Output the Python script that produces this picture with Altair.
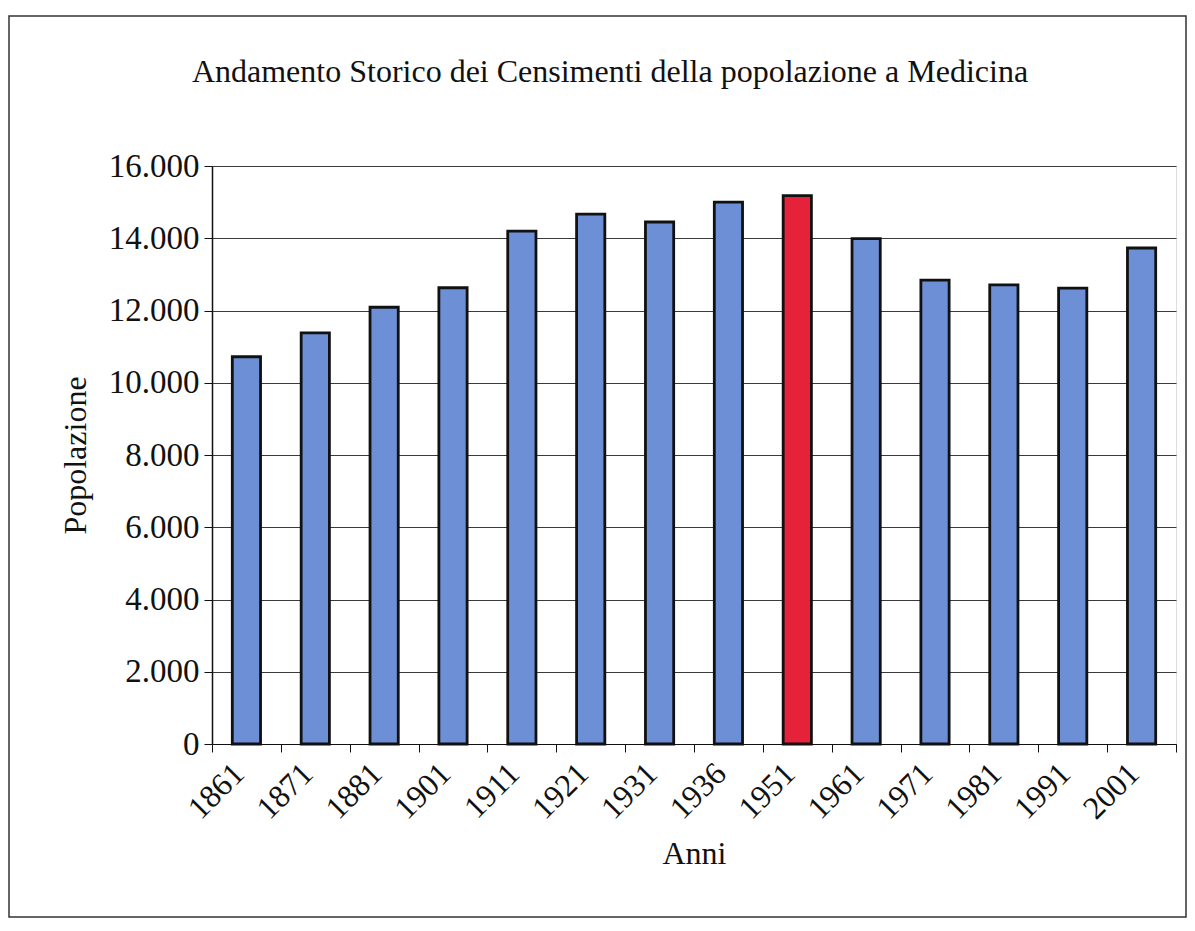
import altair as alt
import pandas as pd

anni = ["1861", "1871", "1881", "1901", "1911", "1921", "1931", "1936",
        "1951", "1961", "1971", "1981", "1991", "2001"]
popolazione = [10720, 11380, 12090, 12630, 14200, 14670, 14450, 15000,
               15180, 13990, 12840, 12710, 12620, 13730]
evidenza = ["no"] * 8 + ["si"] + ["no"] * 5
y_ticks = [0, 2000, 4000, 6000, 8000, 10000, 12000, 14000, 16000]
titolo = "Andamento Storico dei Censimenti della popolazione a Medicina"

df = pd.DataFrame({"Anni": anni, "Popolazione": popolazione, "evidenza": evidenza})

FONT = "Liberation Serif"
W, H = 964, 578

bars = alt.Chart(df).mark_bar(
    width={"band": 0.41}, stroke="#111111", strokeWidth=2.8
).encode(
    x=alt.X("Anni:N", sort=None, title="Anni",
            scale=alt.Scale(paddingInner=0, paddingOuter=0),
            axis=alt.Axis(labelAngle=-45, labelAlign="right", labelBaseline="middle",
                          labelPadding=16, labelOffset=-8, tickBand="extent", tickSize=8,
                          labelFontSize=32, titleFontSize=32, titlePadding=14,
                          labelFont=FONT, titleFont=FONT, grid=False,
                          domainColor="#111111", tickColor="#111111",
                          labelColor="#111111", titleColor="#111111",
                          titleFontWeight="normal")),
    y=alt.Y("Popolazione:Q", title="Popolazione",
            scale=alt.Scale(domain=[0, 16000], nice=False),
            axis=alt.Axis(values=y_ticks, tickSize=8, labelPadding=5,
                          labelExpr="replace(format(datum.value, ',d'), ',', '.')",
                          labelFontSize=33, titleFontSize=32, titlePadding=16,
                          labelFont=FONT, titleFont=FONT, grid=True,
                          gridColor="#3a3a3a", gridWidth=1,
                          domainColor="#111111", domainWidth=1.5,
                          tickColor="#111111", labelColor="#111111",
                          titleColor="#111111", titleFontWeight="normal")),
    color=alt.Color("evidenza:N", legend=None,
                    scale=alt.Scale(domain=["no", "si"], range=["#6D8FD5", "#E5223A"])),
)

border = alt.Chart(pd.DataFrame({"k": [0]})).mark_rect(
    fill=None, stroke="#333333", strokeWidth=1.5
).encode(
    x=alt.value(-203), x2=alt.value(974), y=alt.value(-150), y2=alt.value(751)
)

title_text = alt.Chart(pd.DataFrame({"t": [titolo]})).mark_text(
    font=FONT, fontSize=32, color="#111111", align="center", baseline="alphabetic"
).encode(
    text="t:N", x=alt.value(398), y=alt.value(-84)
)

chart = alt.layer(bars, border, title_text).properties(
    width=W, height=H,
    autosize=alt.AutoSizeParams(type="none"),
    padding={"left": 204, "top": 158, "right": 11, "bottom": 174},
).configure_view(
    fill="#D8DAD9", stroke="#555555", strokeWidth=2
).configure(background="white")

chart.save("out.html", embed_options={"renderer": "svg", "actions": False})
